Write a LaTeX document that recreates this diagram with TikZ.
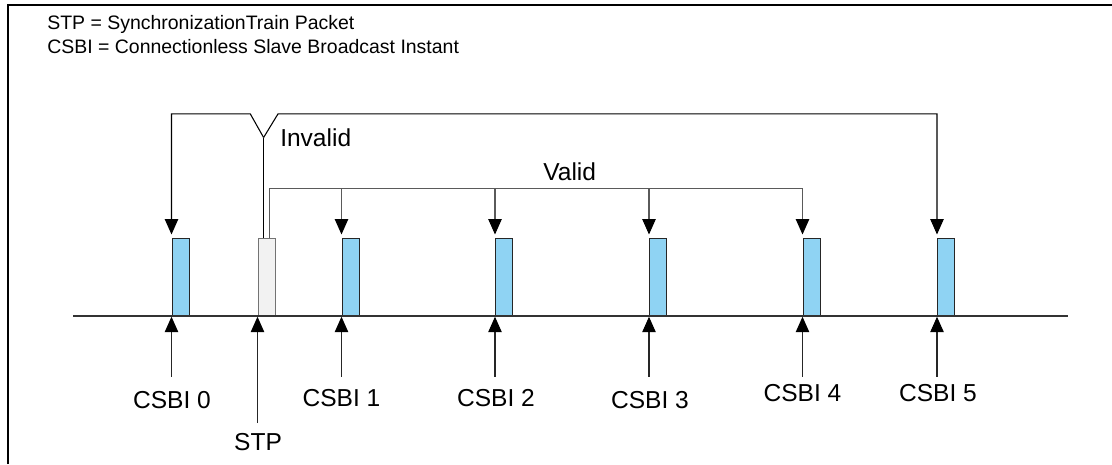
\documentclass[tikz,border=0pt]{standalone}
\usepackage{fontspec}
\setmainfont{Liberation Sans}
\usetikzlibrary{arrows.meta,calc}
\definecolor{slotblue}{RGB}{143,211,243}
\definecolor{stpfill}{RGB}{242,242,242}
\definecolor{lgray}{RGB}{90,90,90}
\begin{document}
\begin{tikzpicture}[x=0.75pt,y=-0.75pt,
  txt/.style={font=\fontsize{18.4}{22}\selectfont, inner sep=0pt, anchor=base},
  head/.style={font=\fontsize{14.6}{18}\selectfont, inner sep=0pt, anchor=base west},
  slot/.style={draw=black!85, fill=slotblue, line width=0.9pt, minimum width=12.75pt, minimum height=57.75pt, inner sep=0pt, anchor=south west},
  stpslot/.style={slot, draw=black!55, fill=stpfill},
  tip/.style={-{Triangle[length=11.5pt,width=10pt,color=black]}},
  inv/.style={draw=black, line width=0.8pt},
  val/.style={draw=lgray, line width=0.8pt},
  up/.style={draw=black!85, line width=0.8pt, tip}
]
\useasboundingbox (0,0) rectangle (1112,464);
% frame (left and top edges)
\draw[line width=1.5pt] (7.5,464) -- (7.5,5.3) -- (1112,5.3);

% header
\node[head] (h1) at (47,29.5) {STP = SynchronizationTrain Packet};
\node[head] (h2) at (47,53.5) {CSBI = Connectionless Slave Broadcast Instant};

% time axis
\coordinate (al) at (73,315.7);
\coordinate (ar) at (1068,315.7);

% slots
\node[slot] (r0) at (171.5,315.7) {};
\node[stpslot] (stp) at (257.5,315.7) {};
\node[slot] (r1) at (341.5,315.7) {};
\node[slot] (r2) at (495,315.7) {};
\node[slot] (r3) at (649,315.7) {};
\node[slot] (r4) at (802.5,315.7) {};
\node[slot] (r5) at (937,315.7) {};
\draw[line width=1.5pt, draw=black!80] (al) -- (ar);

% labels
\node[txt] (l0) at (172,408.3) {CSBI 0};
\node[txt] (l1) at (341.5,406) {CSBI 1};
\node[txt] (l2) at (496,406.7) {CSBI 2};
\node[txt] (l3) at (650,408.3) {CSBI 3};
\node[txt] (l4) at (802.5,401.7) {CSBI 4};
\node[txt] (l5) at (938,401) {CSBI 5};
\node[txt] (ls) at (258,450.7) {STP};
\node[txt, anchor=base west] (linv) at (280,146.7) {Invalid};
\node[txt] (lval) at (569.7,180.7) {Valid};

% bottom arrows
\foreach \r in {r0,r1,r2,r3,r4,r5}{
  \coordinate (t\r) at ($(\r.south west)+(0,61)$);
  \draw[up] (t\r) -- ($(\r.south west)+(0,1)$);
}
\coordinate (tstp) at ($(stp.south west)+(0,107.3)$);
\draw[up] (tstp) -- ($(stp.south west)+(0,1)$);

% invalid connector
\coordinate (vb) at ($(stp.north)+(-3,-100)$);
\draw[inv] (stp.north -| vb) -- (vb);
\draw[inv, tip] (vb) -- ++(-13.3,-23.6) -| ($(r0.north west)+(0,-3)$);
\draw[inv, tip] (vb) -- ++(14.4,-23.6) -| ($(r5.north west)+(0,-3)$);

% valid connector
\coordinate (vs) at ($(stp.north)+(3,0)$);
\coordinate (vy) at ($(stp.north)+(3,-49)$);
\draw[val, tip] (vs) -- (vy) -| ($(r4.north west)+(0,-3)$);
\foreach \r in {r1,r2,r3}{
  \draw[val, tip] (vy -| \r.north west) -- ($(\r.north west)+(0,-3)$);
}
\end{tikzpicture}
\end{document}
